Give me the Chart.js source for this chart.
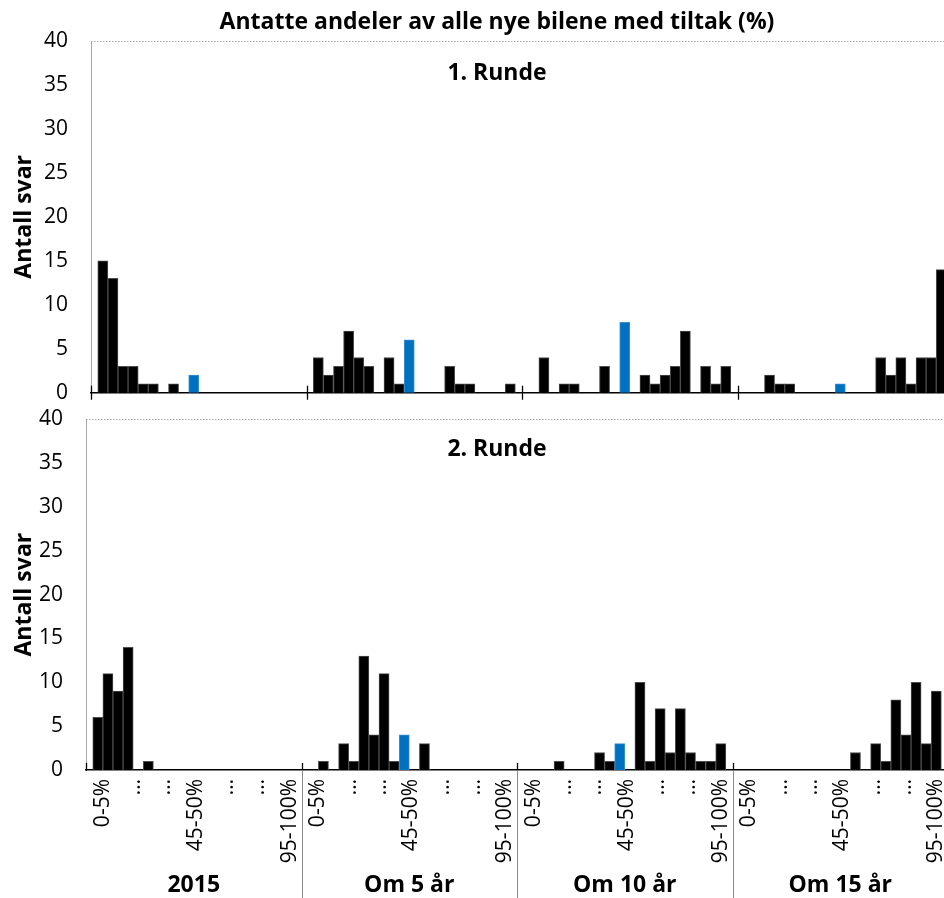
<!DOCTYPE html>
<html>
<head>
<meta charset="utf-8">
<script src="https://cdn.jsdelivr.net/npm/chart.js@4/dist/chart.umd.min.js"></script>
<style>
    html, body { margin: 0; padding: 0; background: #fff; overflow: hidden; }
    #wrap { position: relative; width: 944px; height: 898px; overflow: hidden; }
    #wrap canvas { position: absolute; left: 0; }
    #runde1 { top: 0; }
    #runde2 { top: 400px; }
</style>
</head>
<body>
<div id="wrap">
    <canvas id="runde1" width="960" height="400"></canvas>
    <canvas id="runde2" width="960" height="498"></canvas>
</div>
<script>
// --- DATA ---
const grupper = ['2015', 'Om 5 år', 'Om 10 år', 'Om 15 år'];
const intervaller = ['0-5%', '5-10%', '10-15%', '15-20%', '20-25%', '25-30%', '30-35%', '35-40%', '40-45%', '45-50%',
                     '50-55%', '55-60%', '60-65%', '65-70%', '70-75%', '75-80%', '80-85%', '85-90%', '90-95%', '95-100%'];
const tickTekster = ['0-5%', '…', '…', '45-50%', '…', '…', '95-100%'];
const tickPlass = [0, 3.1, 6.1, 9.2, 12.3, 15.4, 18.5];   // hvor teksten står, målt i intervaller fra første søyle
const markertIntervall = 9;                              // 45-50% vises i blått

// 1. Runde
const runde1_2015 = [15, 13, 3, 3, 1, 1, 0, 1, 0, 2, 0, 0, 0, 0, 0, 0, 0, 0, 0, 0];
const runde1_om5  = [4, 2, 3, 7, 4, 3, 0, 4, 1, 6, 0, 0, 0, 3, 1, 1, 0, 0, 0, 1];
const runde1_om10 = [0, 4, 0, 1, 1, 0, 0, 3, 0, 8, 0, 2, 1, 2, 3, 7, 0, 3, 1, 3];
const runde1_om15 = [0, 0, 2, 1, 1, 0, 0, 0, 0, 1, 0, 0, 0, 4, 2, 4, 1, 4, 4, 14];

// 2. Runde
const runde2_2015 = [6, 11, 9, 14, 0, 1, 0, 0, 0, 0, 0, 0, 0, 0, 0, 0, 0, 0, 0, 0];
const runde2_om5  = [0, 1, 0, 3, 1, 13, 4, 11, 1, 4, 0, 3, 0, 0, 0, 0, 0, 0, 0, 0];
const runde2_om10 = [0, 0, 0, 1, 0, 0, 0, 2, 1, 3, 0, 10, 1, 7, 2, 7, 2, 1, 1, 3];
const runde2_om15 = [0, 0, 0, 0, 0, 0, 0, 0, 0, 0, 0, 2, 0, 3, 1, 8, 4, 10, 3, 9];

// --- OPPSETT ---
const GRUPPE_BREDDE = 21.33;   // i intervall-enheter (20 søyler + luft)
const GRUPPE_LUFT = 0.67;
const FONT = '"Open Sans", Lato, sans-serif';
const SVART = '#000000';
const BLAA = '#0070C0';

function lagPunkter(serier) {
    const punkter = [];
    serier.forEach((verdier, g) => {
        verdier.forEach((v, i) => {
            punkter.push({ x: g * GRUPPE_BREDDE + GRUPPE_LUFT + i + 0.5, y: v });
        });
    });
    return punkter;
}

function lagFarger(antall, farge, markert) {
    const farger = [];
    for (let g = 0; g < antall; g++) {
        intervaller.forEach((_, i) => farger.push(i === markertIntervall ? markert : farge));
    }
    return farger;
}

// ingen ekstra luft rundt aksene, plottet skal stå der vi sier
function fastStorrelse(s, bredde, hoyde) {
    if (bredde !== null) s.width = bredde;
    if (hoyde !== null) s.height = hoyde;
    s.paddingLeft = 0;
    s.paddingRight = 0;
    s.paddingTop = 0;
    s.paddingBottom = 0;
}

// tekst, prikket ramme og gruppestreker
const panelPlugin = {
    id: 'panel',
    afterDraw(chart, args, opts) {
        const { ctx, chartArea, scales } = chart;
        const x = scales.x;
        ctx.save();

        // prikket ramme øverst
        ctx.strokeStyle = '#a6a6a6';
        ctx.lineWidth = 1;
        ctx.setLineDash([1.5, 1.5]);
        ctx.beginPath();
        ctx.moveTo(chartArea.left, Math.round(chartArea.top) + 0.5);
        ctx.lineTo(chartArea.right, Math.round(chartArea.top) + 0.5);
        ctx.stroke();
        ctx.setLineDash([]);

        // streker ved gruppene
        for (let g = 0; g <= grupper.length; g++) {
            const px = Math.round(x.getPixelForValue(g * GRUPPE_BREDDE)) + 0.5;
            ctx.strokeStyle = SVART;
            ctx.lineWidth = 1.3;
            ctx.beginPath();
            ctx.moveTo(px, chartArea.bottom - 7);
            ctx.lineTo(px, chartArea.bottom + (opts.skiller ? 1 : 7));
            ctx.stroke();
            if (opts.skiller && g > 0 && g < grupper.length) {
                ctx.strokeStyle = '#8c8c8c';
                ctx.lineWidth = 1;
                ctx.beginPath();
                ctx.moveTo(px, chartArea.bottom);
                ctx.lineTo(px, chart.height);
                ctx.stroke();
            }
        }

        ctx.fillStyle = SVART;
        ctx.textAlign = 'center';
        ctx.textBaseline = 'middle';
        ctx.font = 'bold 23px ' + FONT;
        if (opts.tittel) ctx.fillText(opts.tittel, 497, 22);
        ctx.fillText(opts.runde, 497, opts.rundeY);

        if (opts.skiller) {
            grupper.forEach((navn, g) => {
                ctx.fillText(navn, x.getPixelForValue((g + 0.5) * GRUPPE_BREDDE), 485);
            });
        }
        ctx.restore();
    }
};

function lagDiagram(id, serier, panel, layoutPadding, yBredde, xHoyde, visTicks) {
    const tickVerdier = [];
    const tickNavn = [];
    grupper.forEach((_, g) => {
        tickPlass.forEach((p, k) => {
            tickVerdier.push(g * GRUPPE_BREDDE + GRUPPE_LUFT + p + 1);
            tickNavn.push(tickTekster[k]);
        });
    });

    return new Chart(document.getElementById(id), {
        type: 'bar',
        data: {
            datasets: [{
                data: lagPunkter(serier),
                backgroundColor: lagFarger(grupper.length, SVART, BLAA),
                borderColor: lagFarger(grupper.length, '#4d4d4d', '#3d8fd0'),
                borderWidth: 1,
                borderSkipped: 'start',
                barPercentage: 1,
                categoryPercentage: 1
            }]
        },
        options: {
            responsive: false,
            animation: false,
            layout: { padding: layoutPadding },
            plugins: {
                legend: { display: false },
                tooltip: { enabled: false },
                panel: panel
            },
            scales: {
                x: {
                    type: 'linear',
                    offset: false,
                    bounds: 'data',
                    min: 0,
                    max: grupper.length * GRUPPE_BREDDE,
                    afterBuildTicks: (s) => { s.ticks = tickVerdier.map(v => ({ value: v })); },
                    ticks: {
                        display: visTicks,
                        autoSkip: false,
                        minRotation: 90,
                        maxRotation: 90,
                        padding: 9,
                        color: SVART,
                        font: { family: FONT, size: 21 },
                        callback: (v, i) => tickNavn[i]
                    },
                    grid: { display: false, drawTicks: false, offset: false },
                    border: { color: SVART, width: 1.5 },
                    afterFit: (s) => fastStorrelse(s, null, xHoyde)
                },
                y: {
                    min: 0,
                    max: 40,
                    ticks: { stepSize: 5, padding: 23, color: SVART, font: { family: FONT, size: 21 } },
                    grid: { display: false, drawTicks: false },
                    border: { color: '#a6a6a6', width: 1, dash: [1.5, 1.5] },
                    title: {
                        display: true,
                        text: 'Antall svar',
                        color: SVART,
                        font: { family: FONT, size: 23, weight: 'bold' },
                        padding: { top: 11, bottom: 0 }
                    },
                    afterFit: (s) => fastStorrelse(s, yBredde, null)
                }
            }
        },
        plugins: [panelPlugin]
    });
}

// --- DIAGRAMMENE ---
lagDiagram('runde1', [runde1_2015, runde1_om5, runde1_om10, runde1_om15],
    { tittel: 'Antatte andeler av alle nye bilene med tiltak (%)', runde: '1. Runde', rundeY: 73, skiller: false },
    { top: 41, right: 7, left: 0, bottom: 0 }, 91, 7.3, false);

lagDiagram('runde2', [runde2_2015, runde2_om5, runde2_om10, runde2_om15],
    { tittel: null, runde: '2. Runde', rundeY: 49, skiller: true },
    { top: 19.3, right: 12, left: 0, bottom: 0 }, 86, 128, true);
</script>
</body>
</html>
